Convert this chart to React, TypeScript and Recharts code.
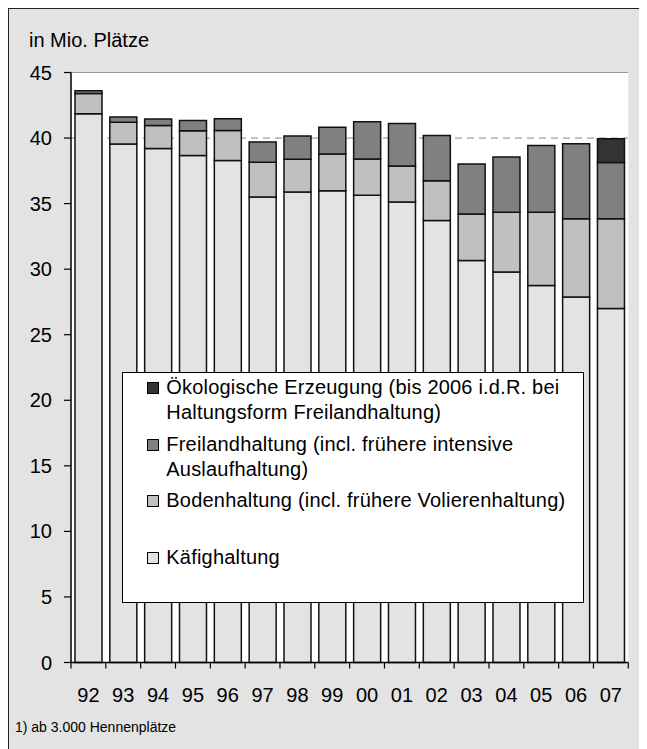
import React from 'react';
import { BarChart, Bar, XAxis, YAxis, CartesianGrid, ReferenceLine, Legend } from 'recharts';

// Legehennenplätze nach Haltungsform, in Mio.
const years = ['92', '93', '94', '95', '96', '97', '98', '99', '00', '01', '02', '03', '04', '05', '06', '07'];
const kaefig = [41.85, 39.55, 39.2, 38.66, 38.28, 35.5, 35.88, 35.98, 35.63, 35.12, 33.72, 30.66, 29.79, 28.75, 27.87, 27.0];
const boden = [1.55, 1.65, 1.76, 1.9, 2.3, 2.65, 2.5, 2.8, 2.77, 2.75, 3.03, 3.54, 4.56, 5.6, 5.97, 6.84];
const freiland = [0.2, 0.4, 0.5, 0.77, 0.9, 1.55, 1.77, 2.05, 2.84, 3.24, 3.44, 3.83, 4.21, 5.08, 5.72, 4.29];
const oeko = [0, 0, 0, 0, 0, 0, 0, 0, 0, 0, 0, 0, 0, 0, 0, 1.81];
const yTicks = [0, 5, 10, 15, 20, 25, 30, 35, 40, 45];

const legendOrder = ['oeko', 'freiland', 'boden', 'kaefig'];
const legendLines: Record<string, string[]> = {
  oeko: ['Ökologische Erzeugung (bis 2006 i.d.R. bei', 'Haltungsform Freilandhaltung)'],
  freiland: ['Freilandhaltung (incl. frühere intensive', 'Auslaufhaltung)'],
  boden: ['Bodenhaltung (incl. frühere Volierenhaltung)'],
  kaefig: ['Käfighaltung'],
};

const data = years.map((year, i) => ({
  year,
  kaefig: kaefig[i],
  boden: boden[i],
  freiland: freiland[i],
  oeko: oeko[i],
}));

const FONT = "'Liberation Sans', Arial, sans-serif";
const CW = 638;
const CH = 740;
const M = { top: 63.5, right: 18.7, bottom: 36.5, left: 12 };
const YW = 50;
const XH = 50;
const PLOT_BOTTOM = CH - M.bottom - XH;
const BAND = (CW - M.left - YW - M.right) / years.length;

const XTick = (props: any) => {
  const { x, payload, index } = props;
  const half = BAND / 2;
  const last = index === years.length - 1;
  return (
    <g>
      <line x1={x - half} x2={x - half} y1={PLOT_BOTTOM} y2={PLOT_BOTTOM + 6} stroke="#000" strokeWidth={1.2} />
      {last && (
        <line x1={x + half} x2={x + half} y1={PLOT_BOTTOM} y2={PLOT_BOTTOM + 6} stroke="#000" strokeWidth={1.2} />
      )}
      <text x={x} y={PLOT_BOTTOM + 39.5} textAnchor="middle" fontSize={20} fill="#000" fontFamily={FONT}>
        {payload.value}
      </text>
    </g>
  );
};

const LegendBox = (props: any) => {
  const payload = props.payload || [];
  const items = legendOrder
    .map((key) => payload.find((p: any) => p.dataKey === key))
    .filter(Boolean);
  return (
    <div
      style={{
        width: '100%',
        height: '100%',
        boxSizing: 'border-box',
        background: '#fff',
        border: '1px solid #000',
        paddingTop: 2,
        fontFamily: FONT,
        fontSize: 20,
        letterSpacing: 0.2,
        color: '#000',
      }}
    >
      {items.map((item: any) => (
        <div key={item.dataKey} style={{ position: 'relative', height: 56.9, lineHeight: '25.6px', paddingLeft: 43 }}>
          <span
            style={{
              position: 'absolute',
              left: 24,
              top: 7,
              width: 10,
              height: 10,
              background: item.color,
              border: '1px solid #000',
            }}
          />
          {legendLines[item.dataKey].map((line) => (
            <div key={line} style={{ whiteSpace: 'nowrap' }}>{line}</div>
          ))}
        </div>
      ))}
    </div>
  );
};

const App: React.FC = () => {
  return (
    <div
      style={{
        position: 'relative',
        width: CW + 40,
        height: CH + 40,
        borderLeft: '1px solid #222',
        borderTop: '1px solid #222',
        background: '#e3e3e3',
        fontFamily: FONT,
      }}
    >
      <style>{'html, body { overflow: hidden; }'}</style>
      <div style={{ position: 'absolute', left: 20, top: 21, fontSize: 20, lineHeight: '20px', color: '#000' }}>
        in Mio. Plätze
      </div>
      <BarChart width={CW} height={CH} data={data} margin={M} barSize={27}>
        <CartesianGrid vertical={false} horizontalValues={[40]} stroke="#888" strokeDasharray="7 5" fill="#fff" />
        <ReferenceLine y={45} stroke="#999" strokeWidth={1.2} />
        <XAxis
          dataKey="year"
          height={XH}
          interval={0}
          axisLine={{ stroke: '#000', strokeWidth: 1.5 }}
          tickLine={false}
          tick={<XTick />}
        />
        <YAxis
          width={YW}
          domain={[0, 45]}
          ticks={yTicks}
          interval={0}
          tickSize={7}
          tickMargin={12}
          axisLine={{ stroke: '#000', strokeWidth: 1.5 }}
          tickLine={{ stroke: '#000', strokeWidth: 1.2 }}
          tick={{ fontSize: 20, fill: '#000', fontFamily: FONT }}
        />
        <YAxis
          yAxisId="r"
          orientation="right"
          width={0}
          domain={[0, 45]}
          tick={false}
          tickLine={false}
          axisLine={{ stroke: '#999', strokeWidth: 1.2 }}
        />
        <Legend
          layout="vertical"
          align="center"
          verticalAlign="middle"
          content={<LegendBox />}
          wrapperStyle={{ left: 113.3, top: 362.7, width: 462, height: 231 }}
        />
        <Bar dataKey="kaefig" name="Käfighaltung" stackId="a" fill="#e3e3e3" stroke="#111" strokeWidth={1.5} isAnimationActive={false} />
        <Bar dataKey="boden" name="Bodenhaltung" stackId="a" fill="#c0c0c0" stroke="#111" strokeWidth={1.5} isAnimationActive={false} />
        <Bar dataKey="freiland" name="Freilandhaltung" stackId="a" fill="#808080" stroke="#111" strokeWidth={1.5} isAnimationActive={false} />
        <Bar dataKey="oeko" name="Ökologische Erzeugung" stackId="a" fill="#333333" stroke="#111" strokeWidth={1.5} isAnimationActive={false} />
      </BarChart>
      <div style={{ position: 'absolute', left: 6, top: 711, fontSize: 14, lineHeight: '14px', color: '#000' }}>
        1) ab 3.000 Hennenplätze
      </div>
    </div>
  );
};

export default App;
